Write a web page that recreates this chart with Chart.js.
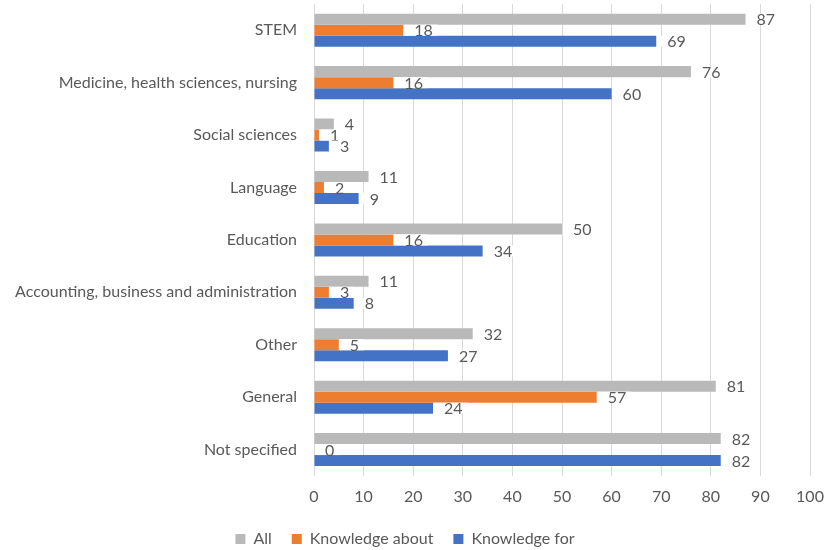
<!DOCTYPE html>
<html>
<head>
<meta charset="utf-8">
<script src="https://cdn.jsdelivr.net/npm/chart.js@4"></script>
<style>
  html, body { margin: 0; padding: 0; background: #fff; }
  #wrap { width: 827px; height: 550px; }
</style>
</head>
<body>
<div id="wrap"><canvas id="myChart" width="827" height="550"></canvas></div>
<script>
const categories = ['STEM', 'Medicine, health sciences, nursing', 'Social sciences', 'Language', 'Education',
  'Accounting, business and administration', 'Other', 'General', 'Not specified'];
const allValues = [87, 76, 4, 11, 50, 11, 32, 81, 82];
const aboutValues = [18, 16, 1, 2, 16, 3, 5, 57, 0];
const forValues = [69, 60, 3, 9, 34, 8, 27, 24, 82];
const xTicks = [0, 10, 20, 30, 40, 50, 60, 70, 80, 90, 100];

const FONT = 'Lato, "Open Sans", sans-serif';
Chart.defaults.font.family = FONT;
Chart.defaults.font.size = 16;
Chart.defaults.color = '#595959';

// value labels with a white backing box, placed just past the bar end
const valueLabels = {
  id: 'valueLabels',
  afterDatasetsDraw(chart) {
    const c = chart.ctx;
    c.save();
    c.font = '16px ' + FONT;
    c.textBaseline = 'middle';
    c.textAlign = 'left';
    chart.data.datasets.forEach((ds, i) => {
      const meta = chart.getDatasetMeta(i);
      meta.data.forEach((bar, j) => {
        const txt = String(ds.data[j]);
        const w = c.measureText(txt).width;
        c.fillStyle = '#fff';
        c.fillRect(bar.x + 1, bar.y - 5.5, w + 15, 11);
        c.fillStyle = '#595959';
        c.fillText(txt, bar.x + 11, bar.y + 1);
      });
    });
    c.restore();
  }
};

const ctx = document.getElementById('myChart').getContext('2d');
const myChart = new Chart(ctx, {
  type: 'bar',
  data: {
    labels: categories,
    datasets: [
      { label: 'All', data: allValues, backgroundColor: '#B9B9B9' },
      { label: 'Knowledge about', data: aboutValues, backgroundColor: '#ED7D31' },
      { label: 'Knowledge for', data: forValues, backgroundColor: '#4472C4' }
    ]
  },
  options: {
    indexAxis: 'y',
    responsive: false,
    animation: false,
    datasets: { bar: { categoryPercentage: 0.63, barPercentage: 1 } },
    layout: { padding: { top: 4, right: 17, bottom: -7, left: 0 } },
    scales: {
      x: {
        min: 0, max: 100,
        afterBuildTicks(scale) { scale.ticks = xTicks.map(v => ({ value: v })); },
        afterFit(scale) {
          scale.height -= 6;
          scale.paddingRight = 0;
        },
        grid: { color: '#D9D9D9', drawTicks: false },
        border: { display: false },
        ticks: { padding: 11 }
      },
      y: {
        afterFit(scale) {
          scale.width = 314;
          scale.paddingTop = 0;
          scale.paddingBottom = 0;
        },
        grid: { display: false, drawTicks: false },
        border: { display: false },
        ticks: { padding: 17 }
      }
    },
    plugins: {
      legend: {
        position: 'bottom',
        labels: { boxWidth: 10, boxHeight: 10, padding: 20, color: '#595959' }
      },
      tooltip: { enabled: false }
    }
  },
  plugins: [valueLabels]
});
</script>
</body>
</html>
